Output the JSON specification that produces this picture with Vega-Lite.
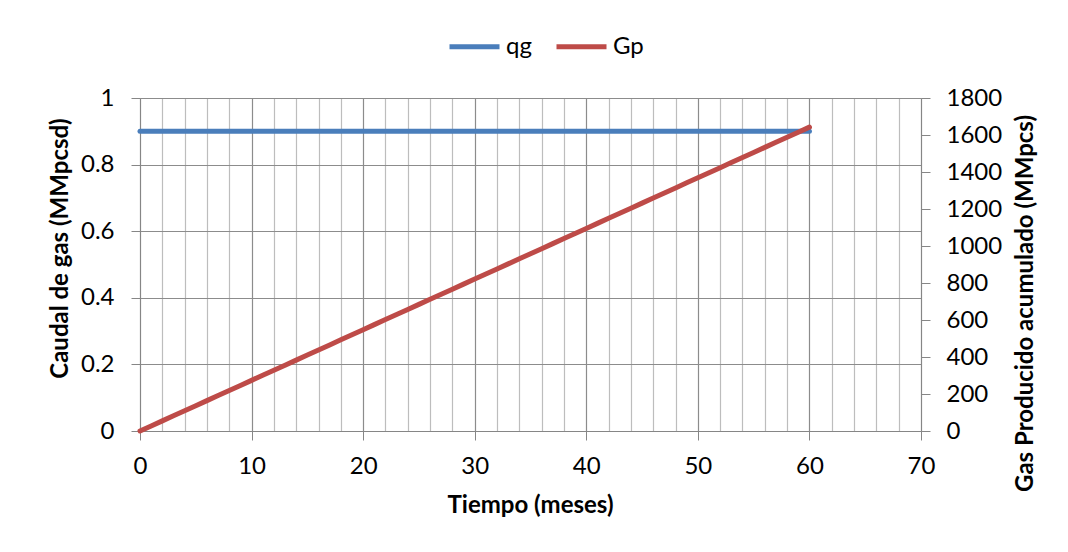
{
  "$schema": "https://vega.github.io/schema/vega-lite/v6.json",
  "width": 781,
  "height": 333,
  "autosize": "none",
  "padding": {"left": 140, "top": 98, "right": 147, "bottom": 121},
  "background": "white",
  "config": {
    "view": {"stroke": null},
    "font": "Lato",
    "axis": {
      "labelFont": "Lato",
      "labelFontSize": 24,
      "labelColor": "#000000",
      "titleFont": "Lato",
      "titleFontSize": 24,
      "titleFontWeight": "bold",
      "titleColor": "#000000",
      "domainColor": "#868686",
      "tickColor": "#868686",
      "tickSize": 9,
      "domainWidth": 1,
      "tickWidth": 1
    },
    "legend": {
      "labelFont": "Lato",
      "labelFontSize": 24,
      "labelColor": "#000000"
    }
  },
  "data": {
    "values": [
      {"t": 0, "qg": 0.9, "Gp": 0},
      {"t": 1, "qg": 0.9, "Gp": 27.375},
      {"t": 2, "qg": 0.9, "Gp": 54.75},
      {"t": 3, "qg": 0.9, "Gp": 82.125},
      {"t": 4, "qg": 0.9, "Gp": 109.5},
      {"t": 5, "qg": 0.9, "Gp": 136.875},
      {"t": 6, "qg": 0.9, "Gp": 164.25},
      {"t": 7, "qg": 0.9, "Gp": 191.625},
      {"t": 8, "qg": 0.9, "Gp": 219},
      {"t": 9, "qg": 0.9, "Gp": 246.375},
      {"t": 10, "qg": 0.9, "Gp": 273.75},
      {"t": 11, "qg": 0.9, "Gp": 301.125},
      {"t": 12, "qg": 0.9, "Gp": 328.5},
      {"t": 13, "qg": 0.9, "Gp": 355.875},
      {"t": 14, "qg": 0.9, "Gp": 383.25},
      {"t": 15, "qg": 0.9, "Gp": 410.625},
      {"t": 16, "qg": 0.9, "Gp": 438},
      {"t": 17, "qg": 0.9, "Gp": 465.375},
      {"t": 18, "qg": 0.9, "Gp": 492.75},
      {"t": 19, "qg": 0.9, "Gp": 520.125},
      {"t": 20, "qg": 0.9, "Gp": 547.5},
      {"t": 21, "qg": 0.9, "Gp": 574.875},
      {"t": 22, "qg": 0.9, "Gp": 602.25},
      {"t": 23, "qg": 0.9, "Gp": 629.625},
      {"t": 24, "qg": 0.9, "Gp": 657},
      {"t": 25, "qg": 0.9, "Gp": 684.375},
      {"t": 26, "qg": 0.9, "Gp": 711.75},
      {"t": 27, "qg": 0.9, "Gp": 739.125},
      {"t": 28, "qg": 0.9, "Gp": 766.5},
      {"t": 29, "qg": 0.9, "Gp": 793.875},
      {"t": 30, "qg": 0.9, "Gp": 821.25},
      {"t": 31, "qg": 0.9, "Gp": 848.625},
      {"t": 32, "qg": 0.9, "Gp": 876},
      {"t": 33, "qg": 0.9, "Gp": 903.375},
      {"t": 34, "qg": 0.9, "Gp": 930.75},
      {"t": 35, "qg": 0.9, "Gp": 958.125},
      {"t": 36, "qg": 0.9, "Gp": 985.5},
      {"t": 37, "qg": 0.9, "Gp": 1012.875},
      {"t": 38, "qg": 0.9, "Gp": 1040.25},
      {"t": 39, "qg": 0.9, "Gp": 1067.625},
      {"t": 40, "qg": 0.9, "Gp": 1095},
      {"t": 41, "qg": 0.9, "Gp": 1122.375},
      {"t": 42, "qg": 0.9, "Gp": 1149.75},
      {"t": 43, "qg": 0.9, "Gp": 1177.125},
      {"t": 44, "qg": 0.9, "Gp": 1204.5},
      {"t": 45, "qg": 0.9, "Gp": 1231.875},
      {"t": 46, "qg": 0.9, "Gp": 1259.25},
      {"t": 47, "qg": 0.9, "Gp": 1286.625},
      {"t": 48, "qg": 0.9, "Gp": 1314},
      {"t": 49, "qg": 0.9, "Gp": 1341.375},
      {"t": 50, "qg": 0.9, "Gp": 1368.75},
      {"t": 51, "qg": 0.9, "Gp": 1396.125},
      {"t": 52, "qg": 0.9, "Gp": 1423.5},
      {"t": 53, "qg": 0.9, "Gp": 1450.875},
      {"t": 54, "qg": 0.9, "Gp": 1478.25},
      {"t": 55, "qg": 0.9, "Gp": 1505.625},
      {"t": 56, "qg": 0.9, "Gp": 1533},
      {"t": 57, "qg": 0.9, "Gp": 1560.375},
      {"t": 58, "qg": 0.9, "Gp": 1587.75},
      {"t": 59, "qg": 0.9, "Gp": 1615.125},
      {"t": 60, "qg": 0.9, "Gp": 1642.5}
    ]
  },
  "encoding": {
    "x": {
      "field": "t",
      "type": "quantitative",
      "scale": {"domain": [0, 70], "nice": false, "zero": false},
      "axis": {
        "title": "Tiempo (meses)",
        "values": [0, 2, 4, 6, 8, 10, 12, 14, 16, 18, 20, 22, 24, 26, 28, 30, 32, 34, 36, 38, 40, 42, 44, 46, 48, 50, 52, 54, 56, 58, 60, 62, 64, 66, 68, 70],
        "labelExpr": "datum.value % 10 === 0 ? datum.label : ''",
        "labelPadding": 14,
        "labelFlush": false,
        "grid": true,
        "gridColor": {"condition": {"test": "datum.value % 10 === 0", "value": "#8c8c8c"}, "value": "#bdbdbd"},
        "gridWidth": 1.2,
        "tickOpacity": {"condition": {"test": "datum.value % 10 === 0", "value": 1}, "value": 0},
        "titleX": 390,
        "titleY": 74,
        "titleBaseline": "middle",
        "titleAlign": "center"
      }
    }
  },
  "layer": [
    {
      "mark": {"type": "line", "strokeWidth": 5, "strokeCap": "round", "clip": false},
      "encoding": {
        "y": {
          "field": "qg",
          "type": "quantitative",
          "scale": {"domain": [0, 1], "nice": false},
          "axis": {
            "orient": "left",
            "title": "Caudal de gas (MMpcsd)",
            "values": [0, 0.2, 0.4, 0.6, 0.8, 1],
            "format": "~g",
            "grid": true,
            "gridColor": "#8c8c8c",
            "labelPadding": 17,
            "titleAngle": 270,
            "titleX": -80,
            "titleY": 150,
            "titleBaseline": "middle",
            "titleAlign": "center"
          }
        },
        "color": {
          "datum": "qg",
          "type": "nominal",
          "scale": {"domain": ["qg", "Gp"], "range": ["#4a7ebb", "#be4b48"]},
          "legend": {
            "title": null,
            "orient": "none",
            "direction": "horizontal",
            "legendX": 307,
            "legendY": -79,
            "symbolType": "stroke",
            "symbolStrokeWidth": 5,
            "symbolSize": 2500,
            "labelOffset": 4,
            "columnPadding": 14
          }
        }
      }
    },
    {
      "mark": {"type": "line", "strokeWidth": 5, "strokeCap": "round", "clip": false},
      "encoding": {
        "y": {
          "field": "Gp",
          "type": "quantitative",
          "scale": {"domain": [0, 1800], "nice": false},
          "axis": {
            "orient": "right",
            "title": "Gas Producido acumulado (MMpcs)",
            "values": [0, 200, 400, 600, 800, 1000, 1200, 1400, 1600, 1800],
            "format": "d",
            "grid": false,
            "labelPadding": 16,
            "titleAngle": 270,
            "titleX": 104,
            "titleY": 205,
            "titleBaseline": "middle",
            "titleAlign": "center"
          }
        },
        "color": {"datum": "Gp", "type": "nominal"}
      }
    }
  ],
  "resolve": {"scale": {"y": "independent"}}
}
